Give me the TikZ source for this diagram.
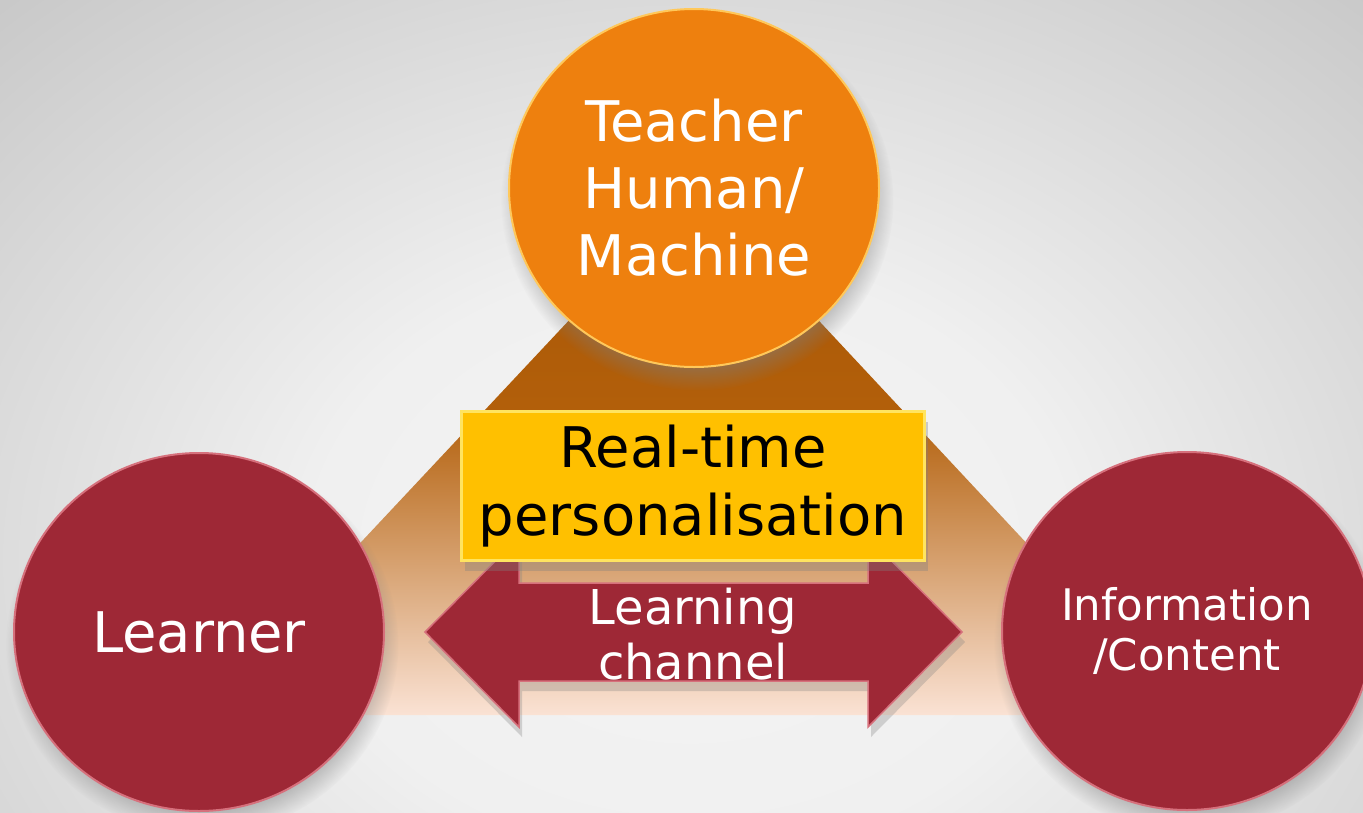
\documentclass[tikz,border=0pt]{standalone}
\usepackage{fontspec}
\setmainfont{DejaVu Sans}
\usepackage{tikz}
\usetikzlibrary{positioning,shapes.geometric,shadows,fadings}

\definecolor{tchOrange}{RGB}{238,128,14}
\definecolor{tchRim}{RGB}{255,200,90}
\definecolor{lrnRed}{RGB}{158,40,54}
\definecolor{lrnRim}{RGB}{214,112,124}
\definecolor{boxYellow}{RGB}{255,192,0}
\definecolor{boxRim}{RGB}{255,228,96}
\definecolor{triTop}{RGB}{168,86,6}
\definecolor{triMid}{RGB}{178,95,10}
\definecolor{triBot}{RGB}{250,226,212}
\definecolor{bgLight}{RGB}{244,244,244}
\definecolor{bgMid}{RGB}{240,240,240}
\definecolor{bgEdge}{RGB}{222,222,222}
\definecolor{bgDark}{RGB}{200,200,200}

\pgfdeclareverticalshading{triFade}{100bp}{color(0bp)=(triBot); color(25bp)=(triBot);
  color(54bp)=(triMid); color(75bp)=(triTop); color(100bp)=(triTop)}
\pgfdeclareradialshading{bgGlow}{\pgfpoint{0bp}{0bp}}{color(0bp)=(bgLight); color(12bp)=(bgMid);
  color(21bp)=(bgEdge); color(32bp)=(bgDark); color(50bp)=(bgDark)}

\tikzset{
bubble/.style={ellipse, inner sep=0pt, minimum width=370pt, minimum height=358pt,
  text=white, align=center, line width=2pt,
  circular drop shadow={shadow xshift=3pt, shadow yshift=-12pt, shadow scale=1.06, opacity=0.55}},
bigtext/.style={font=\fontsize{56}{67}\selectfont},
}

\begin{document}
\begin{tikzpicture}[x=1pt,y=1pt,yscale=-1,xscale=1]
\useasboundingbox (0,0) rectangle (1363,812);
%Background
\shade [shading=bgGlow] (-100,-50) rectangle (1480,1170);
%Shape: Triangle
\shade [shading=triFade] (694,187) -- (199,715) -- (1187,715) -- cycle;

% Circles
\node [bubble, bigtext, fill=tchOrange, draw=tchRim] (teacher) at (694,188) {Teacher\\Human/\\Machine};
\node [bubble, bigtext, fill=lrnRed, draw=lrnRim] (learner) at (199,632) {Learner};
\node [bubble, fill=lrnRed, draw=lrnRim, font=\fontsize{43.5}{50}\selectfont] (content) at (1187,631) {Information\\/Content};

%Shape: Double Arrow
\draw [fill=lrnRed, draw=lrnRim, line width=1.5pt, drop shadow={shadow xshift=3pt, shadow yshift=-10pt, opacity=0.3}]
  (425,632) -- (519,537) -- (519,583) -- (868,583) -- (868,537) -- (962,632)
  -- (868,727) -- (868,681) -- (519,681) -- (519,727) -- cycle;
% Text Node
\node [text=white, align=center, font=\fontsize{48}{55}\selectfont] (channel) at (693,634) {Learning\\channel};

%Shape: Rectangle
\node [fill=boxYellow, draw=boxRim, line width=3pt, minimum width=463pt, minimum height=149pt, inner sep=0pt,
  align=center, font=\fontsize{56}{68}\selectfont,
  drop shadow={shadow xshift=3pt, shadow yshift=-10pt, opacity=0.35}] (rtp) at (693,486) {Real-time\\personalisation};
\end{tikzpicture}
\end{document}
